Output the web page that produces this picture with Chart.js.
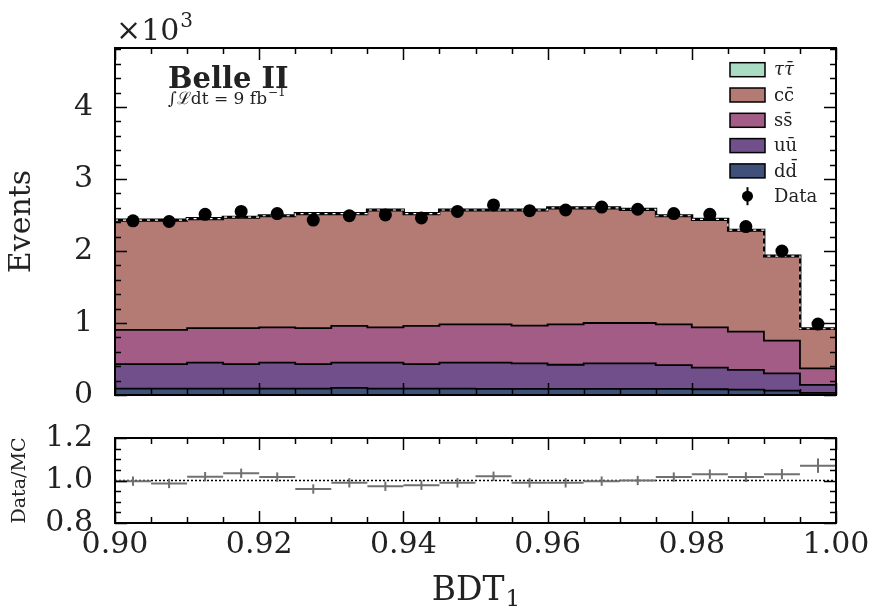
<!DOCTYPE html>
<html>
<head>
<meta charset="utf-8">
<script src="https://cdn.jsdelivr.net/npm/chart.js@4.4.1/dist/chart.umd.min.js"></script>
<style>
  html, body { margin: 0; padding: 0; background: #fff; }
  #wrap { position: relative; width: 875px; height: 614px; overflow: hidden; }
  #main { position: absolute; left: 0; top: 0; }
  #ratio { position: absolute; left: 0; top: 406px; }
</style>
</head>
<body>
<div id="wrap">
  <canvas id="main" width="875" height="427"></canvas>
  <canvas id="ratio" width="875" height="208"></canvas>
</div>
<script>
// BDT_1 bin edges (20 bins)
const binEdges = [0.900, 0.905, 0.910, 0.915, 0.920, 0.925, 0.930, 0.935, 0.940, 0.945,
                  0.950, 0.955, 0.960, 0.965, 0.970, 0.975, 0.980, 0.985, 0.990, 0.995, 1.000];

// MC per process, events per bin
const ddbar  = [88, 88, 88, 88, 88, 88, 100, 88, 88, 88, 85, 85, 85, 85, 85, 85, 80, 75, 60, 30];
const uubar  = [342, 342, 362, 342, 362, 342, 350, 362, 342, 362, 365, 355, 335, 355, 355, 330, 300, 275, 240, 110];
const ssbar  = [475, 475, 480, 500, 490, 500, 510, 490, 530, 530, 530, 525, 560, 560, 560, 565, 560, 530, 455, 230];
const ccbar  = [1515, 1515, 1510, 1530, 1540, 1580, 1550, 1620, 1550, 1580, 1580, 1595, 1610, 1590, 1570, 1500, 1490, 1400, 1167, 545];
const tautau = [10, 10, 10, 10, 10, 10, 10, 10, 10, 10, 10, 10, 10, 10, 10, 10, 10, 10, 8, 5];

// data
const dataCounts = [2420, 2410, 2510, 2550, 2520, 2430, 2490, 2500, 2460, 2550, 2640, 2560, 2570, 2610, 2580, 2520, 2510, 2340, 2000, 985];
const dataErr    = [49, 49, 50, 50, 50, 49, 50, 50, 50, 50, 51, 51, 51, 51, 51, 50, 50, 48, 45, 31];

// data / MC
const ratioVals = [0.997, 0.986, 1.018, 1.034, 1.016, 0.960, 0.989, 0.973, 0.978, 0.989,
                   1.020, 0.989, 0.989, 0.997, 1.000, 1.016, 1.030, 1.016, 1.030, 1.070];
const ratioErr  = [0.022, 0.022, 0.022, 0.022, 0.022, 0.022, 0.022, 0.022, 0.022, 0.022,
                   0.022, 0.022, 0.022, 0.022, 0.022, 0.022, 0.022, 0.023, 0.024, 0.034];

const xTicks = [0.90, 0.92, 0.94, 0.96, 0.98, 1.00];
const yTicks = [0, 1000, 2000, 3000, 4000];
const ratioTicks = [0.8, 1.0, 1.2];

const FONT = "'DejaVu Serif', serif";
const TXT = '#222';

const binCenters = binEdges.slice(0, -1).map((e, i) => (e + binEdges[i + 1]) / 2);
const mcTotal = ddbar.map((v, i) => v + uubar[i] + ssbar[i] + ccbar[i] + tautau[i]);

function stepPoints(vals) {
  const pts = vals.map((v, i) => ({ x: binEdges[i], y: v }));
  pts.push({ x: binEdges[binEdges.length - 1], y: vals[vals.length - 1] });
  return pts;
}

// matplotlib style frame with inward ticks on all sides
const frameTicks = {
  id: 'frameTicks',
  afterDatasetsDraw(chart, args, opts) {
    const { ctx, chartArea: a, scales } = chart;
    const xs = scales.x, ys = scales.y;
    ctx.save();
    ctx.strokeStyle = '#000';
    ctx.lineWidth = 1.5;
    const seg = (x1, y1, x2, y2) => { ctx.beginPath(); ctx.moveTo(x1, y1); ctx.lineTo(x2, y2); ctx.stroke(); };
    let n = Math.round((xs.max - xs.min) / opts.xMinor);
    for (let k = 0; k <= n; k++) {
      const v = xs.min + k * opts.xMinor;
      const px = Math.round(xs.getPixelForValue(v)) + 0.5;
      const len = opts.xMajor.some(t => Math.abs(t - v) < 1e-9) ? 12 : 6;
      seg(px, a.bottom, px, a.bottom - len);
      seg(px, a.top, px, a.top + len);
    }
    n = Math.floor((ys.max - ys.min) / opts.yMinor + 1e-6);
    for (let k = 0; k <= n; k++) {
      const v = ys.min + k * opts.yMinor;
      const py = Math.round(ys.getPixelForValue(v)) + 0.5;
      const len = opts.yMajor.some(t => Math.abs(t - v) < 1e-6) ? 12 : 6;
      seg(a.left, py, a.left + len, py);
      seg(a.right, py, a.right - len, py);
    }
    ctx.lineWidth = 2;
    ctx.strokeRect(a.left, a.top, a.right - a.left, a.bottom - a.top);
    ctx.restore();
  }
};

// vertical error bars for datasets carrying an errors array
const errorBars = {
  id: 'errorBars',
  afterDatasetsDraw(chart) {
    const { ctx, scales } = chart;
    ctx.save();
    chart.data.datasets.forEach((ds) => {
      if (!ds.errors) return;
      ctx.strokeStyle = ds.errColor || '#000';
      ctx.lineWidth = ds.errWidth || 2;
      ds.data.forEach((p, j) => {
        const px = scales.x.getPixelForValue(p.x);
        ctx.beginPath();
        ctx.moveTo(px, scales.y.getPixelForValue(p.y - ds.errors[j]));
        ctx.lineTo(px, scales.y.getPixelForValue(p.y + ds.errors[j]));
        ctx.stroke();
      });
    });
    ctx.restore();
  }
};

const layers = [
  { label: 'd\u0064\u0304', vals: ddbar, color: '#3f5079' },
  { label: 'u\u0075\u0304', vals: uubar, color: '#714f8b' },
  { label: 's\u0073\u0304', vals: ssbar, color: '#a35c85' },
  { label: 'c\u0063\u0304', vals: ccbar, color: '#b47a74' },
  { label: '\u03c4\u03c4\u0304', vals: tautau, color: '#a9dcc3' }
];

// annotations: offset text, experiment label, legend
const mainText = {
  id: 'mainText',
  afterDraw(chart) {
    const { ctx, chartArea: a } = chart;
    ctx.save();
    ctx.fillStyle = TXT;
    ctx.textBaseline = 'alphabetic';
    ctx.textAlign = 'left';
    ctx.font = '30px ' + FONT;
    ctx.fillText('\u00d710', a.left + 1, 40);
    const w = ctx.measureText('\u00d710').width;
    ctx.font = '20px ' + FONT;
    ctx.fillText('3', a.left + 1 + w + 1, 27);

    ctx.font = 'bold 29px ' + FONT;
    ctx.fillText('Belle II', 168, 88);
    ctx.font = '17px ' + FONT;
    ctx.fillText('\u222b\u2112dt = 9 fb', 168, 104);
    const lw = ctx.measureText('\u222b\u2112dt = 9 fb').width;
    ctx.font = '12px ' + FONT;
    ctx.fillText('\u22121', 168 + lw + 1, 96);

    // legend
    const boxX = a.right - 106, boxW = 35, boxH = 14;
    const rows = layers.slice().reverse();
    rows.forEach((l, i) => {
      const cy = a.top + 21.7 + i * 25.3;
      ctx.fillStyle = l.color;
      ctx.fillRect(boxX, cy - boxH / 2, boxW, boxH);
      ctx.strokeStyle = '#000';
      ctx.lineWidth = 1.5;
      ctx.strokeRect(boxX, cy - boxH / 2, boxW, boxH);
      ctx.fillStyle = TXT;
      ctx.font = (i === 0 ? 'italic ' : '') + '18px ' + FONT;
      ctx.textBaseline = 'middle';
      ctx.fillText(l.label, boxX + 44, cy + 1);
    });
    const dy = a.top + 21.7 + 5 * 25.3;
    ctx.fillStyle = '#000';
    ctx.beginPath();
    ctx.arc(boxX + 17.5, dy, 5.5, 0, Math.PI * 2);
    ctx.fill();
    ctx.strokeStyle = '#000';
    ctx.lineWidth = 2;
    ctx.beginPath();
    ctx.moveTo(boxX + 17.5, dy - 9);
    ctx.lineTo(boxX + 17.5, dy + 9);
    ctx.stroke();
    ctx.fillStyle = TXT;
    ctx.font = '18px ' + FONT;
    ctx.fillText('Data', boxX + 44, dy + 1);
    ctx.restore();
  }
};

// x axis title with a real subscript
const ratioText = {
  id: 'ratioText',
  afterDraw(chart) {
    const { ctx, chartArea: a } = chart;
    ctx.save();
    ctx.fillStyle = TXT;
    ctx.textBaseline = 'alphabetic';
    ctx.textAlign = 'left';
    ctx.font = '33px ' + FONT;
    const w1 = ctx.measureText('BDT').width;
    ctx.font = '23px ' + FONT;
    const w2 = ctx.measureText('1').width;
    const x0 = (a.left + a.right) / 2 - (w1 + w2) / 2;
    const base = 194;
    ctx.font = '33px ' + FONT;
    ctx.fillText('BDT', x0, base);
    ctx.font = '23px ' + FONT;
    ctx.fillText('1', x0 + w1 + 1, base + 6);
    ctx.restore();
  }
};

const mainDatasets = layers.map((l, i) => ({
  label: l.label,
  data: stepPoints(l.vals),
  stepped: 'before',
  backgroundColor: l.color,
  borderColor: '#000',
  borderWidth: i === layers.length - 1 ? 3 : 1.8,
  pointRadius: 0,
  fill: i === 0 ? 'origin' : '-1',
  stack: 'mc'
}));

mainDatasets.push({
  label: 'MC unc',
  data: stepPoints(mcTotal),
  stepped: 'before',
  borderColor: '#fff',
  borderWidth: 1.2,
  borderDash: [3, 5],
  pointRadius: 0,
  fill: false,
  stack: 'total',
  order: -1
});

mainDatasets.push({
  label: 'Data',
  data: binCenters.map((c, i) => ({ x: c, y: dataCounts[i] })),
  showLine: false,
  pointRadius: 6.5,
  pointBackgroundColor: '#000',
  pointBorderWidth: 0,
  stack: 'data',
  order: -2,
  errors: dataErr,
  errColor: '#000',
  errWidth: 2
});

new Chart(document.getElementById('main').getContext('2d'), {
  type: 'line',
  data: { datasets: mainDatasets },
  options: {
    responsive: false,
    animation: false,
    events: [],
    layout: { padding: { left: 0, right: 39, top: 48, bottom: 0 } },
    plugins: {
      legend: { display: false },
      tooltip: { enabled: false },
      frameTicks: { xMajor: xTicks, xMinor: 0.005, yMajor: yTicks, yMinor: 200 }
    },
    scales: {
      x: { type: 'linear', min: 0.9, max: 1.0, display: false },
      y: {
        stacked: true,
        min: 0,
        max: 4820,
        afterBuildTicks: s => { s.ticks = yTicks.map(v => ({ value: v })); },
        afterFit: s => { s.width = 115; },
        grid: { display: false },
        border: { display: false },
        ticks: {
          autoSkip: false,
          padding: 14,
          color: TXT,
          font: { family: FONT, size: 30 },
          callback: v => String(v / 1000)
        },
        title: {
          display: true,
          text: 'Events',
          color: TXT,
          font: { family: FONT, size: 30 },
          padding: { top: 4, bottom: 0 }
        }
      }
    }
  },
  plugins: [frameTicks, errorBars, mainText]
});

new Chart(document.getElementById('ratio').getContext('2d'), {
  type: 'line',
  data: {
    datasets: [
      {
        label: 'unity',
        data: [{ x: 0.9, y: 1.0 }, { x: 1.0, y: 1.0 }],
        borderColor: '#000',
        borderWidth: 1.5,
        borderDash: [2, 2],
        pointRadius: 0,
        fill: false
      },
      {
        label: 'Data/MC',
        data: binCenters.map((c, i) => ({ x: c, y: ratioVals[i] })),
        showLine: false,
        pointStyle: 'line',
        pointRadius: 18,
        pointBorderColor: '#707070',
        pointBorderWidth: 2,
        order: -1,
        errors: ratioErr,
        errColor: '#707070',
        errWidth: 2
      }
    ]
  },
  options: {
    responsive: false,
    animation: false,
    events: [],
    layout: { padding: { left: 0, right: 39, top: 0, bottom: 0 } },
    plugins: {
      legend: { display: false },
      tooltip: { enabled: false },
      frameTicks: { xMajor: xTicks, xMinor: 0.005, yMajor: ratioTicks, yMinor: 0.05 }
    },
    scales: {
      x: {
        type: 'linear',
        min: 0.9,
        max: 1.0,
        afterBuildTicks: s => { s.ticks = xTicks.map(v => ({ value: v })); },
        afterFit: s => { s.height = 91; },
        grid: { display: false },
        border: { display: false },
        ticks: {
          autoSkip: false,
          maxRotation: 0,
          padding: -4,
          color: TXT,
          font: { family: FONT, size: 30 },
          callback: v => v.toFixed(2)
        }
      },
      y: {
        min: 0.8,
        max: 1.2,
        afterBuildTicks: s => { s.ticks = ratioTicks.map(v => ({ value: v })); },
        afterFit: s => { s.width = 115; },
        grid: { display: false },
        border: { display: false },
        ticks: {
          autoSkip: false,
          padding: 14,
          color: TXT,
          font: { family: FONT, size: 30 },
          callback: v => v.toFixed(1)
        },
        title: {
          display: true,
          text: 'Data/MC',
          color: TXT,
          font: { family: FONT, size: 19 },
          padding: { top: 9, bottom: 0 }
        }
      }
    }
  },
  plugins: [frameTicks, errorBars, ratioText]
});
</script>
</body>
</html>
